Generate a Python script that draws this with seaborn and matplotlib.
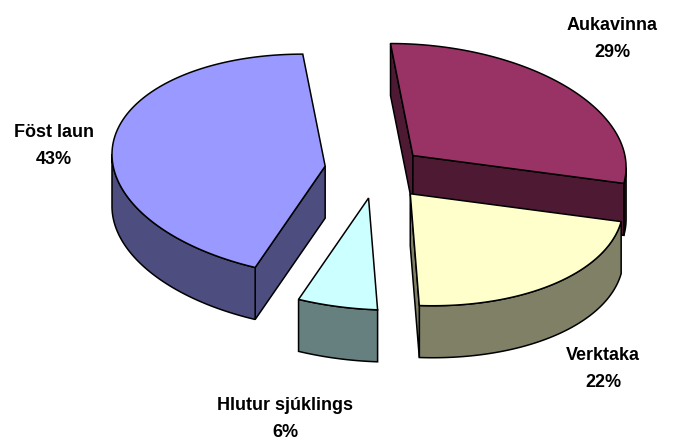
import numpy as np
import matplotlib.pyplot as plt
import seaborn as sns

# pie slices, clockwise from 12 o'clock
labels = ['Aukavinna', 'Verktaka', 'Hlutur sjúklings', 'Föst laun']
shares = [29, 22, 6, 43]
pct_text = ['29%', '22%', '6%', '43%']
top_colors = ['#993366', '#FFFFCC', '#CCFFFF', '#9999FF']
side_colors = ['#4D1933', '#808066', '#668080', '#4D4D80']

sns.set_theme(style='white')
plt.rcParams['font.family'] = ['Liberation Sans', 'DejaVu Sans']

fig = plt.figure(figsize=(6.82, 4.41), dpi=100)
ax = fig.add_axes([0, 0, 1, 1])
ax.set_xlim(0, 682)
ax.set_ylim(441, 0)
ax.axis('off')

# pie geometry (pixel space of the figure)
cx, cy = 376, 172
rx, ry = 212, 112
depth = 52
explode = 0.24
shear = 0.2

fracs = np.array(shares) / sum(shares)
bounds = np.concatenate([[0], np.cumsum(fracs)]) * 2 * np.pi

slices = []
for i in range(len(shares)):
    a0, a1 = bounds[i], bounds[i + 1]
    mid = (a0 + a1) / 2
    ox = cx + explode * rx * np.sin(mid)
    oy = cy - explode * ry * np.cos(mid)
    t = np.linspace(a0, a1, max(int(np.degrees(a1 - a0)), 2))
    px = np.concatenate([[ox], ox + rx * np.sin(t)])
    py = np.concatenate([[oy], oy - ry * np.cos(t)])
    px = px + shear * (py - cy)
    slices.append((oy, i, px, py))

z = 1
for oy, i, px, py in sorted(slices, key=lambda s: s[0]):
    n = len(px)
    area = 0.5 * np.sum(px * np.roll(py, -1) - np.roll(px, -1) * py)
    # visible walls: edges whose outward normal points down the screen
    runs = []
    cur = None
    for k in range(n):
        j = (k + 1) % n
        dx, dy = px[j] - px[k], py[j] - py[k]
        ny = -np.sign(area) * dx
        radial = (k == 0) or (j == 0)
        if ny > 1e-9:
            if cur is not None and not radial and cur[1] == k and not cur[2]:
                cur[1] = j
            else:
                if cur is not None:
                    runs.append(cur)
                cur = [k, j, radial]
        else:
            if cur is not None:
                runs.append(cur)
            cur = None
    if cur is not None:
        runs.append(cur)
    for a, b, _ in runs:
        idx = list(range(a, b + 1)) if b > a else [a, b]
        wx = np.concatenate([px[idx], px[idx][::-1]])
        wy = np.concatenate([py[idx], py[idx][::-1] + depth])
        ax.fill(wx, wy, color=side_colors[i], ec='black', lw=1.1, zorder=z)
        z += 1
    ax.fill(px, py, color=top_colors[i], ec='black', lw=1.1, zorder=z)
    z += 1

# data labels
label_pos = [(612, 39), (603, 369), (285, 419), (54, 146)]
for (lx, ly), name, pct in zip(label_pos, labels, pct_text):
    ax.text(lx, ly, name + '\n' + pct, ha='center', va='center',
            fontsize=13, fontweight='bold', linespacing=1.7, color='black')

fig.savefig('out.png', dpi=100)
